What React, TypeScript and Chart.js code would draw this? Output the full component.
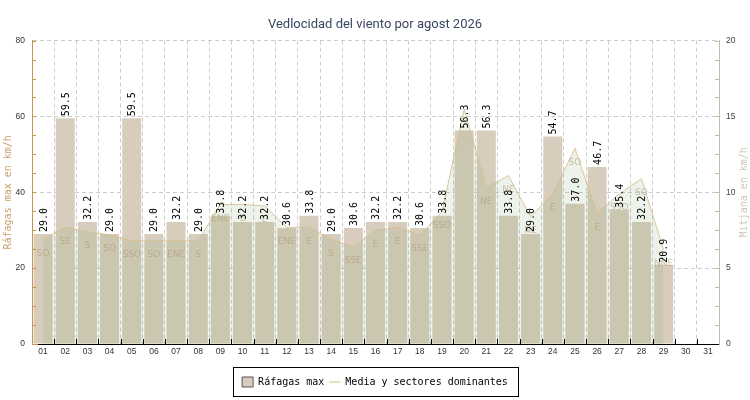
import { useEffect, useRef } from "react"
import { Chart, registerables } from "chart.js"

Chart.register(...registerables)

const days = [
  "01", "02", "03", "04", "05", "06", "07", "08", "09", "10",
  "11", "12", "13", "14", "15", "16", "17", "18", "19", "20",
  "21", "22", "23", "24", "25", "26", "27", "28", "29", "30", "31",
]

// max gust per day, km/h (left axis)
const gusts = [
  29.0, 59.5, 32.2, 29.0, 59.5, 29.0, 32.2, 29.0, 33.8, 32.2,
  32.2, 30.6, 33.8, 29.0, 30.6, 32.2, 32.2, 30.6, 33.8, 56.3,
  56.3, 33.8, 29.0, 54.7, 37.0, 46.7, 35.4, 32.2, 20.9, null, null,
]

// mean wind per day, km/h (right axis)
const meanWind = [
  6.9, 7.7, 7.4, 7.2, 6.8, 6.8, 6.8, 6.8, 9.2, 9.2,
  9.1, 7.7, 7.7, 6.9, 6.4, 7.5, 7.7, 7.2, 8.7, 15.5,
  10.3, 11.1, 8.4, 9.9, 12.9, 8.6, 9.9, 10.9, 6.2, null, null,
]

// dominant sector per day
const sectors = [
  "SO", "SE", "S", "SO", "SSO", "SO", "ENE", "S", "ENE", "E",
  "E", "ENE", "E", "S", "SSE", "E", "E", "SSE", "SSO", "",
  "NE", "NE", "NE", "E", "SO", "E", "SSO", "SO", "NNE", "", "",
]

const barColor = "#d8cdbc"
const areaFill = "rgba(110, 150, 90, 0.12)"
const lineColor = "rgba(214, 190, 140, 0.85)"
const mono = "'DejaVu Sans Mono', monospace"

const windLabels = {
  id: "windLabels",
  afterDatasetsDraw(chart: any) {
    const ctx = chart.ctx
    const barMeta = chart.getDatasetMeta(0)
    const lineMeta = chart.getDatasetMeta(1)
    ctx.save()
    // sectors under the mean line
    ctx.font = "9px 'DejaVu Sans'"
    ctx.fillStyle = "rgba(175, 155, 115, 0.6)"
    ctx.textAlign = "center"
    ctx.textBaseline = "middle"
    lineMeta.data.forEach((pt: any, i: number) => {
      if (meanWind[i] == null || !sectors[i]) return
      ctx.fillText(sectors[i], pt.x, pt.y + 14)
    })
    // gust values, vertical, on top of bars
    ctx.font = "10px " + mono
    ctx.fillStyle = "#000"
    ctx.textAlign = "left"
    barMeta.data.forEach((bar: any, i: number) => {
      const v = gusts[i]
      if (v == null) return
      ctx.save()
      ctx.translate(bar.x + 1, bar.y - 2)
      ctx.rotate(-Math.PI / 2)
      ctx.fillText(v.toFixed(1), 0, 0)
      ctx.restore()
    })
    ctx.restore()
  },
}

const decor = {
  id: "decor",
  afterDraw(chart: any) {
    const { ctx, chartArea, scales } = chart
    const { x, y } = scales
    ctx.save()
    ctx.lineWidth = 1

    // minor ticks, left axis
    ctx.strokeStyle = "#c8944f"
    ctx.beginPath()
    for (let v = 0; v <= 80; v += 5) {
      const py = Math.round(y.getPixelForValue(v)) + 0.5
      ctx.moveTo(chartArea.left, py)
      ctx.lineTo(chartArea.left + (v === 0 ? 6 : 4), py)
    }
    ctx.stroke()

    // minor ticks, right axis
    ctx.strokeStyle = "#c8bcaa"
    ctx.beginPath()
    for (let v = 5; v <= 80; v += 5) {
      const py = Math.round(y.getPixelForValue(v)) + 0.5
      ctx.moveTo(chartArea.right, py)
      ctx.lineTo(chartArea.right - 4, py)
    }
    ctx.stroke()

    // x ticks between days
    ctx.strokeStyle = "#000"
    ctx.beginPath()
    for (let i = 0; i < days.length - 1; i++) {
      const px = Math.round((x.getPixelForValue(i) + x.getPixelForValue(i + 1)) / 2) + 0.5
      ctx.moveTo(px, chartArea.bottom)
      ctx.lineTo(px, chartArea.bottom - 5)
    }
    ctx.stroke()

    // right axis title, reading upwards
    ctx.font = "10px " + mono
    ctx.fillStyle = "#cfc6b6"
    ctx.textAlign = "center"
    ctx.textBaseline = "middle"
    ctx.save()
    ctx.translate(chart.width - 6, (chartArea.top + chartArea.bottom) / 2)
    ctx.rotate(-Math.PI / 2)
    ctx.fillText("Mitjana en km/h", 0, 0)
    ctx.restore()

    // frame round the legend
    const boxes = chart.legend?.legendHitBoxes
    if (boxes && boxes.length) {
      const first = boxes[0]
      const last = boxes[boxes.length - 1]
      const left = Math.round(first.left - 9) + 0.5
      const right = Math.round(last.left + last.width + 10) + 0.5
      const cy = first.top + first.height / 2
      ctx.strokeStyle = "#000"
      ctx.strokeRect(left, Math.round(cy - 15) + 0.5, right - left, 29)
    }
    ctx.restore()
  },
}

export default function App() {
  const chartRef = useRef<HTMLCanvasElement>(null)
  const chartInstance = useRef<Chart | null>(null)

  useEffect(() => {
    if (!chartRef.current) return
    if (chartInstance.current) chartInstance.current.destroy()
    const ctx = chartRef.current.getContext("2d")
    if (!ctx) return

    const tickFont = { family: "'Liberation Sans', sans-serif", size: 8.5 }

    chartInstance.current = new Chart(ctx, {
      type: "bar",
      data: {
        labels: days,
        datasets: [
          {
            type: "bar",
            label: "Ráfagas max",
            data: gusts,
            backgroundColor: barColor,
            yAxisID: "y",
            barPercentage: 0.86,
            categoryPercentage: 1,
            order: 2,
          },
          {
            type: "line",
            label: "Media y sectores dominantes",
            data: meanWind,
            yAxisID: "y1",
            borderColor: lineColor,
            borderWidth: 1,
            backgroundColor: areaFill,
            fill: "origin",
            pointRadius: 0,
            tension: 0,
            order: 1,
          },
        ] as any,
      },
      options: {
        animation: false,
        responsive: true,
        maintainAspectRatio: false,
        layout: { padding: { bottom: 3 } },
        plugins: {
          title: {
            display: true,
            text: "Vedlocidad del viento por agost 2026",
            color: "#3b4663",
            font: { family: "Roboto", size: 13, weight: "normal" },
            padding: { top: 17, bottom: 8 },
          },
          legend: {
            position: "bottom",
            labels: {
              usePointStyle: true,
              pointStyleWidth: 11,
              boxHeight: 10,
              padding: 5,
              color: "#000",
              font: { family: mono, size: 10 },
              generateLabels: () => [
                {
                  text: "Ráfagas max",
                  fillStyle: barColor,
                  strokeStyle: "#555",
                  lineWidth: 1,
                  pointStyle: "rect",
                  datasetIndex: 0,
                  hidden: false,
                },
                {
                  text: "Media y sectores dominantes",
                  fillStyle: "#eadcc0",
                  strokeStyle: "#eadcc0",
                  lineWidth: 2,
                  pointStyle: "line",
                  datasetIndex: 1,
                  hidden: false,
                },
              ] as any,
            },
          },
          tooltip: { enabled: false },
        },
        scales: {
          x: {
            grid: {
              color: (c: any) => (c.index === 0 || c.index >= days.length ? "transparent" : "#cccccc"),
              drawTicks: false,
              offset: true,
            },
            border: { color: "#000", dash: [4, 3] },
            ticks: { color: "#333", font: tickFont, padding: 3, maxRotation: 0, autoSkip: false },
            afterFit: (s: any) => {
              s.height = 28
            },
          },
          y: {
            position: "left",
            min: 0,
            max: 80,
            ticks: { stepSize: 20, color: "#333", font: tickFont, padding: 7 },
            grid: {
              color: (c: any) => (c.tick && c.tick.value === 0 ? "transparent" : "#cccccc"),
              drawTicks: false,
            },
            border: { color: "#c8944f", dash: [4, 3] },
            title: {
              display: true,
              text: "Ráfagas max en km/h",
              color: "#c9a06a",
              font: { family: mono, size: 10 },
              padding: { top: 2, bottom: 0 },
            },
            afterFit: (s: any) => {
              s.width = 32
            },
          },
          y1: {
            position: "right",
            min: 0,
            max: 20,
            ticks: { stepSize: 5, color: "#444", font: tickFont, padding: 7 },
            grid: { drawOnChartArea: false, drawTicks: false },
            border: { color: "#c8bcaa" },
            afterFit: (s: any) => {
              s.width = 31
            },
          },
        },
      },
      plugins: [windLabels, decor],
    })

    return () => {
      if (chartInstance.current) {
        chartInstance.current.destroy()
        chartInstance.current = null
      }
    }
  }, [])

  return (
    <div style={{ position: "absolute", left: 0, top: 0, width: 750, height: 400, background: "#fff" }}>
      <canvas ref={chartRef} />
    </div>
  )
}
